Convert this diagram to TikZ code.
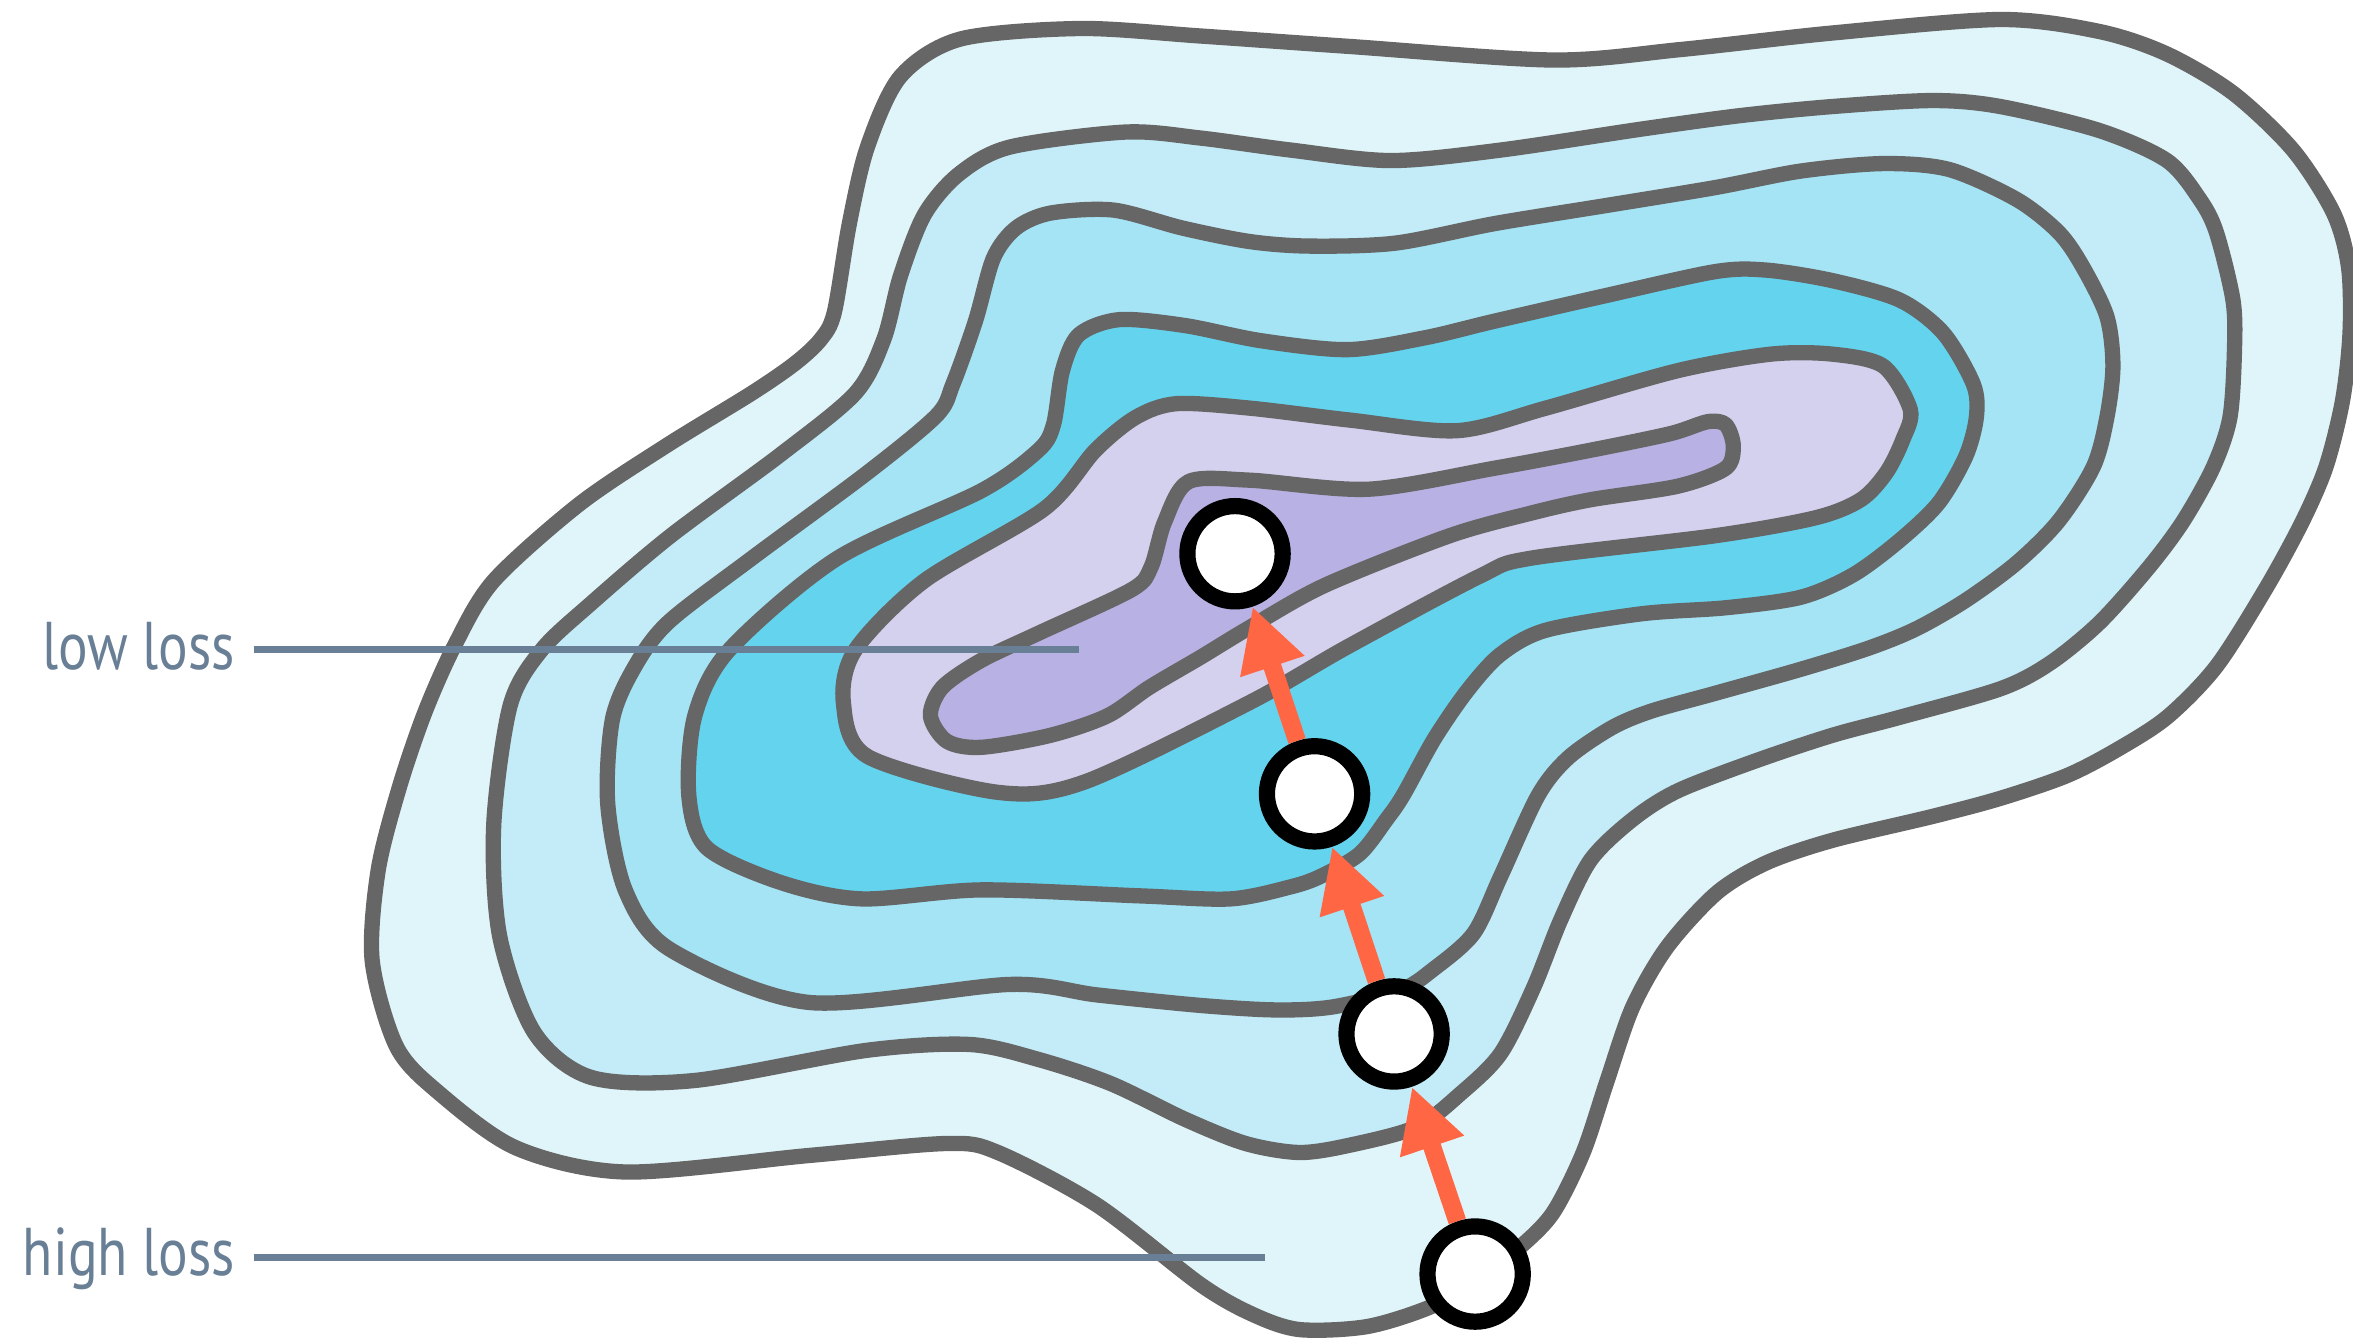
\documentclass[tikz,border=0pt]{standalone}
\usepackage{fontspec}
\newfontfamily\lblfont[FakeStretch=0.82]{PT Sans}
\usetikzlibrary{arrows.meta}
\definecolor{cA}{HTML}{E0F5F9}
\definecolor{cB}{HTML}{C3ECF8}
\definecolor{cC}{HTML}{A4E4F5}
\definecolor{cD}{HTML}{64D4EE}
\definecolor{cE}{HTML}{D4D1EE}
\definecolor{cF}{HTML}{B8B1E3}
\definecolor{strokegray}{HTML}{666666}
\definecolor{arrowred}{HTML}{FF6644}
\definecolor{labelblue}{HTML}{687F95}
\begin{document}
\begin{tikzpicture}[x=1pt,y=-1pt,
  contour/.style={draw=strokegray, line width=10.2pt, line join=round},
  stepdot/.style={circle, draw=black, line width=10.8pt, fill=white, minimum size=63.5pt, inner sep=0pt},
  steparrow/.style={draw=arrowred, line width=12pt, -{Triangle[length=42pt,width=42pt]}, fill=arrowred},
  lbl/.style={font=\lblfont\fontsize{45}{50}\selectfont, text=labelblue, inner sep=0pt, anchor=base east},
  lblline/.style={draw=labelblue, line width=4.8pt}]
\useasboundingbox (0,0) rectangle (1568,893);

% contour 1
\path[contour, fill=cA] plot[smooth cycle, tension=0.5] coordinates {
(640,26) (720,19) (800,24) (900,31) (1035,40) (1120,33) (1221,22) (1333,13)
(1399,21) (1444,36) (1488,62) (1528,100) (1555,142) (1565,178) (1566,222)
(1561,267) (1550,311) (1534,348) (1510,392) (1477,444) (1444,478) (1410,500)
(1377,517) (1333,532) (1288,544) (1221,560) (1177,575) (1144,595) (1111,631)
(1088,671) (1071,720) (1055,768) (1035,808) (1013,831) (985,853) (953,871)
(911,884) (866,886) (835,876) (800,856) (731,803) (665,768) (631,762)
(539,770) (417,781) (344,765) (291,727) (264,697) (248,640) (252,580)
(266,525) (283,475) (303,430) (329,387) (386,336) (444,297) (501,262)
(530,242) (547,226) (556,208) (566,149) (578,98) (600,51)};

% contour 2
\path[contour, fill=cB] plot[smooth cycle, tension=0.5] coordinates {
(639,116) (673,98) (750,88) (800,92) (860,100) (927,107) (1000,100) (1094,86)
(1160,77) (1221,71) (1288,67) (1333,71) (1399,87) (1444,107) (1466,133)
(1477,155) (1488,200) (1489,233) (1486,278) (1475,311) (1455,347) (1432,378)
(1399,415) (1366,442) (1333,459) (1266,478) (1221,490) (1170,507)
(1118,527) (1088,546) (1060,573) (1040,613) (1022,658) (1000,702) (973,729)
(944,751) (900,763) (866,768) (830,762) (790,746) (740,722) (692,706)
(646,696) (577,700) (463,720) (394,718) (356,688) (333,624) (329,550)
(340,470) (361,433) (394,402) (447,357) (520,303) (570,262) (589,226)
(600,184) (616,143)};

% contour 3
\path[contour, fill=cC] plot[smooth cycle, tension=0.5] coordinates {
(677,152) (700,142) (742,140) (788,152) (833,161) (873,164) (930,162)
(996,149) (1070,137) (1143,125) (1200,114) (1255,109) (1299,113) (1344,133)
(1372,155) (1388,178) (1404,211) (1408,244) (1404,278) (1395,311) (1372,347)
(1344,375) (1310,400) (1277,419) (1245,432) (1200,446) (1143,462)
(1100,474) (1074,485) (1045,505) (1025,530) (1000,584) (982,622) (955,646)
(933,660) (888,671) (850,673) (800,670) (731,663) (673,656) (539,668)
(447,633) (417,594) (405,536) (408,480) (422,446) (445,415) (501,372)
(578,315) (624,277) (635,256) (650,214) (662,172)};

% contour 4
\path[contour, fill=cD] plot[smooth cycle, tension=0.5] coordinates {
(719,223) (746,213) (790,217) (840,227) (898,233) (950,225) (996,214)
(1070,197) (1143,181) (1177,180) (1221,187) (1266,200) (1295,222) (1315,256)
(1317,278) (1310,304) (1292,335) (1266,360) (1235,383) (1200,398)
(1150,405) (1094,409) (1030,420) (1000,436) (978,460) (956,492) (935,530) (924,546)
(906,569) (880,584) (860,591) (820,599) (760,597) (654,593) (574,599)
(520,588) (471,565) (459,530) (463,477) (486,433) (558,372) (654,327)
(692,300) (702,283) (708,247)};

% contour 5
\path[contour, fill=cE] plot[smooth cycle, tension=0.5] coordinates {
(757,278) (784,269) (833,272) (900,280) (971,287) (1030,272) (1118,247)
(1180,236) (1221,236) (1255,244) (1273,273) (1268,293) (1257,315) (1240,333)
(1210,345) (1143,357) (1020,372) (986,384) (898,431) (833,468)
(723,521) (665,528) (578,504) (562,468) (570,433) (616,387) (696,339)
(730,300)};

% contour 6
\path[contour, fill=cF] plot[smooth cycle, tension=0.5] coordinates {
(776,348) (792,321) (833,320) (912,326) (996,312) (1060,300) (1113,289)
(1138,281) (1150,283) (1155,297) (1150,312) (1118,324) (1060,333) (1020,342)
(966,357) (883,390) (833,418) (800,438) (766,458) (738,477) (700,490)
(654,498) (631,494) (620,477) (628,458) (654,440) (692,422) (754,393)
(767,378)};

% labels
\node[lbl] (lowlbl) at (157,446) {low loss};
\node[lbl] (highlbl) at (157,850) {high loss};
\coordinate (lowa) at (169,433);
\coordinate (lowb) at (719,433);
\coordinate (higha) at (169,838);
\coordinate (highb) at (843,838);
\draw[lblline] (lowa) -- (lowb);
\draw[lblline] (higha) -- (highb);

% steps
\node[stepdot] (p1) at (823,369) {};
\node[stepdot] (p2) at (876,529) {};
\node[stepdot] (p3) at (929,689) {};
\node[stepdot] (p4) at (983,849) {};
\draw[steparrow] (p4) -- (p3);
\draw[steparrow] (p3) -- (p2);
\draw[steparrow] (p2) -- (p1);
\end{tikzpicture}
\end{document}
